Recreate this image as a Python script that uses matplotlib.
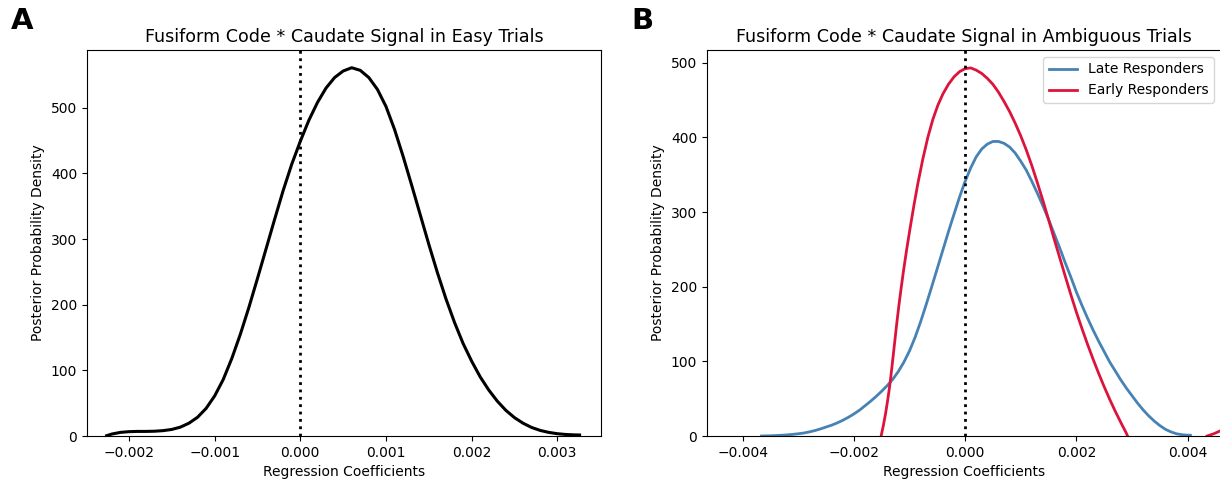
import matplotlib
matplotlib.use("Agg")
import matplotlib.pyplot as plt

# Easy trials: posterior density
easy_x = [-0.00226, -0.0022, -0.0021, -0.0020, -0.0019, -0.0018, -0.0017, -0.0016,
          -0.0015, -0.0014, -0.0013, -0.0012, -0.0011, -0.0010, -0.0009, -0.0008,
          -0.0007, -0.0006, -0.0005, -0.0004, -0.0003, -0.0002, -0.0001, 0.0,
          0.0001, 0.0002, 0.0003, 0.0004, 0.0005, 0.0006, 0.0007, 0.0008,
          0.0009, 0.0010, 0.0011, 0.0012, 0.0013, 0.0014, 0.0015, 0.0016,
          0.0017, 0.0018, 0.0019, 0.0020, 0.0021, 0.0022, 0.0023, 0.0024,
          0.0025, 0.0026, 0.0027, 0.0028, 0.0029, 0.0030, 0.0031, 0.0032, 0.00326]
easy_y = [0.5, 3, 5.5, 6.6, 7, 7, 7.3, 8.2,
          10, 13.5, 19.5, 28.5, 42, 61, 86, 118,
          155, 196, 240, 285, 330, 374, 414, 449,
          481, 508, 530, 546, 556, 561, 557, 546,
          528, 502, 467, 426, 382, 337, 292, 249,
          209, 173, 141, 114, 90, 70, 53, 39,
          28, 19.5, 13, 8.5, 5.5, 3.5, 2.3, 1.7, 1.5]

# Ambiguous trials: late responders
late_x = [-0.00366, -0.0035, -0.0034, -0.0033, -0.0032, -0.0031, -0.0030, -0.0029,
          -0.0028, -0.0027, -0.0026, -0.0025, -0.0024, -0.0023, -0.0022, -0.0021,
          -0.0020, -0.0019, -0.0018, -0.0017, -0.0016, -0.0015, -0.0014, -0.0013,
          -0.0012, -0.0011, -0.0010, -0.0009, -0.0008, -0.0007, -0.0006, -0.0005,
          -0.0004, -0.0003, -0.0002, -0.0001, 0.0, 0.0001, 0.0002, 0.0003,
          0.0004, 0.0005, 0.0006, 0.0007, 0.0008, 0.0009, 0.0010, 0.0011,
          0.0012, 0.0013, 0.0014, 0.0015, 0.0016, 0.0017, 0.0018, 0.0019,
          0.0020, 0.0021, 0.0022, 0.0023, 0.0024, 0.0025, 0.0026, 0.0027,
          0.0028, 0.0029, 0.0030, 0.0031, 0.0032, 0.0033, 0.0034, 0.0035,
          0.0036, 0.0037, 0.0038, 0.0039, 0.0040, 0.00405]
late_y = [0, 0.3, 0.6, 1, 1.5, 2.2, 3, 4,
          5.5, 7.3, 9.5, 12, 14.5, 17.5, 21, 25,
          29.5, 34.5, 40.5, 46.5, 53, 60, 67.5, 76,
          86.5, 99, 114, 132, 153, 176, 200, 224.5,
          249, 273.5, 297, 320, 341, 359, 374, 384.5,
          391, 394.5, 394.5, 392, 387, 379, 368, 356,
          341, 325, 308, 290, 271, 252, 232, 213,
          193, 175, 158, 142, 127, 113, 99, 87,
          75, 64, 54, 44, 35, 27, 20, 14,
          9, 5.5, 3, 1.7, 1.1, 1]

# Ambiguous trials: early responders
early_x = [-0.00151, -0.00147, -0.00143, -0.00139, -0.00135, -0.00131, -0.00127, -0.00123,
           -0.00119, -0.00115, -0.00111, -0.00105, -0.00099, -0.00092, -0.00085, -0.00076,
           -0.00067, -0.00058, -0.00049, -0.0004, -0.0003, -0.0002, -0.0001, 0.0,
           0.0001, 0.0002, 0.0003, 0.0004, 0.0005, 0.0006, 0.0007, 0.0008,
           0.0009, 0.0010, 0.0011, 0.0012, 0.0013, 0.0014, 0.0015, 0.0016,
           0.0017, 0.0018, 0.0019, 0.0020, 0.0021, 0.0022, 0.0023, 0.0024,
           0.0025, 0.0026, 0.0027, 0.0028, 0.0029, 0.00292]
early_y = [0, 14, 30, 49, 70, 96, 123, 150,
           175, 198, 220, 250, 278, 309, 338, 371,
           400, 424, 443, 458, 471, 481, 488, 492,
           493, 490, 485.5, 479, 471, 460.5, 448, 434.5,
           419, 402, 383, 362, 339, 315, 290, 264,
           239, 214, 189.5, 166, 144, 123, 103, 84,
           66, 49, 33, 18, 3.5, 0]
# second piece rising at the right edge
early_tail_x = [0.00435, 0.00447, 0.00459, 0.0047]
early_tail_y = [0, 3, 7, 14]

easy_xticks = [-0.002, -0.001, 0.0, 0.001, 0.002, 0.003]
amb_xticks = [-0.004, -0.002, 0.0, 0.002, 0.004]
yticks = [0, 100, 200, 300, 400, 500]

W, H = 1220, 482
fig = plt.figure(figsize=(W / 100, H / 100), dpi=100)

ax1 = fig.add_axes([87 / W, 46 / H, 514 / W, 386 / H])
ax2 = fig.add_axes([707 / W, 46 / H, 514 / W, 386 / H])

# Panel A
ax1.plot(easy_x, easy_y, color="black", lw=2.2)
ax1.axvline(0, color="black", ls=":", lw=2)
ax1.set_xlim(-0.00249, 0.00351)
ax1.set_ylim(0, 588)
ax1.set_xticks(easy_xticks)
ax1.set_yticks(yticks)
ax1.set_xlabel("Regression Coefficients", fontsize=10)
ax1.set_ylabel("Posterior Probability Density", fontsize=10)
ax1.set_title("Fusiform Code * Caudate Signal in Easy Trials", fontsize=12.6)

# Panel B
ax2.plot(late_x, late_y, color="steelblue", lw=2, label="Late Responders")
ax2.plot(early_x, early_y, color="crimson", lw=2, label="Early Responders")
ax2.plot(early_tail_x, early_tail_y, color="crimson", lw=2)
ax2.axvline(0, color="black", ls=":", lw=2)
ax2.set_xlim(-0.00464, 0.0046)
ax2.set_ylim(0, 517)
ax2.set_xticks(amb_xticks)
ax2.set_yticks(yticks)
ax2.set_xlabel("Regression Coefficients", fontsize=10)
ax2.set_ylabel("Posterior Probability Density", fontsize=10)
ax2.set_title("Fusiform Code * Caudate Signal in Ambiguous Trials", fontsize=12.6)
ax2.legend(loc="upper right", fontsize=10)

for ax in (ax1, ax2):
    ax.tick_params(labelsize=10)

fig.text(11 / W, 1 - 29 / H, "A", fontsize=21, fontweight="bold")
fig.text(631 / W, 1 - 29 / H, "B", fontsize=21, fontweight="bold")

fig.savefig("out.png", dpi=100)
